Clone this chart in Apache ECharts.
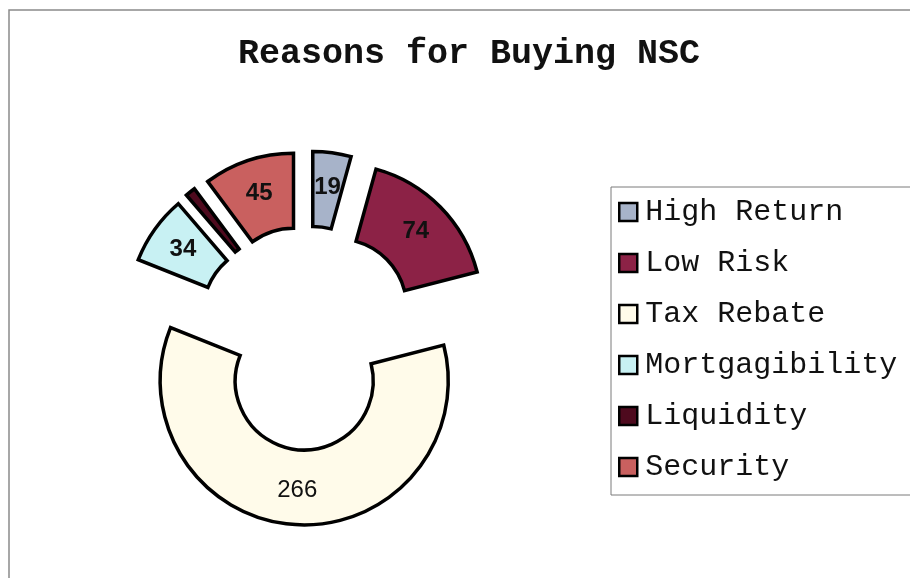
<!DOCTYPE html>
<html>
<head>
<meta charset="utf-8">
<title>Reasons for Buying NSC</title>
<script src="https://cdn.jsdelivr.net/npm/echarts@6/dist/echarts.min.js"></script>
<style>
  html, body { margin: 0; padding: 0; background: #fff; }
  #chart { width: 910px; height: 578px; }
</style>
</head>
<body>
<div id="chart"></div>
<script>
// Survey responses: reasons for buying National Savings Certificates
const reasons = ['High Return', 'Low Risk', 'Tax Rebate', 'Mortgagibility', 'Liquidity', 'Security'];
const responses = [19, 74, 266, 34, 5, 45];
const sliceColors = ['#a7b3c9', '#8c2246', '#fffbea', '#c8f1f3', '#4e0a1e', '#c9605f'];
const hiddenLabels = ['Liquidity'];

const chart = echarts.init(document.getElementById('chart'), null, { renderer: 'canvas' });

const pieData = reasons.map((name, i) => ({
  name: name,
  value: responses[i],
  selected: true,
  itemStyle: { color: sliceColors[i] },
  label: hiddenLabels.includes(name) ? { show: false } :
         (name === 'Tax Rebate' ? { fontWeight: 'normal' } : {})
}));

chart.setOption({
  animation: false,
  backgroundColor: '#ffffff',
  title: {
    text: 'Reasons for Buying NSC',
    left: 464,
    textAlign: 'center',
    top: 32,
    textStyle: {
      fontFamily: '"Liberation Mono", "Courier New", monospace',
      fontWeight: 'bold',
      fontSize: 35,
      color: '#111'
    }
  },
  graphic: [{
    type: 'polyline',
    shape: { points: [[9, 578], [9, 10], [910, 10]] },
    style: { stroke: '#8a8a8a', lineWidth: 1.5, fill: null },
    silent: true
  }],
  legend: {
    orient: 'vertical',
    left: 611,
    top: 187,
    padding: [10, 20, 13, 7],
    itemGap: 21,
    itemWidth: 18,
    itemHeight: 18,
    selectedMode: false,
    backgroundColor: '#ffffff',
    borderColor: '#7a7a7a',
    borderWidth: 1,
    borderRadius: 0,
    icon: 'rect',
    itemStyle: { borderColor: '#000', borderWidth: 2.5 },
    textStyle: {
      fontFamily: '"Liberation Mono", "Courier New", monospace',
      fontSize: 30,
      lineHeight: 30,
      color: '#111',
      padding: [0, 0, 0, 3]
    },
    data: reasons
  },
  series: [{
    type: 'pie',
    center: [307, 338],
    radius: [69, 144],
    startAngle: 90,
    clockwise: true,
    selectedMode: 'multiple',
    selectedOffset: 43,
    avoidLabelOverlap: false,
    emphasis: { disabled: true },
    itemStyle: { borderColor: '#000', borderWidth: 3.5, borderJoin: 'miter' },
    label: {
      show: true,
      position: 'inside',
      formatter: '{c}',
      fontFamily: '"Liberation Sans", Arial, sans-serif',
      fontWeight: 'bold',
      fontSize: 24,
      color: '#111'
    },
    labelLine: { show: false },
    data: pieData
  }]
});
</script>
</body>
</html>
